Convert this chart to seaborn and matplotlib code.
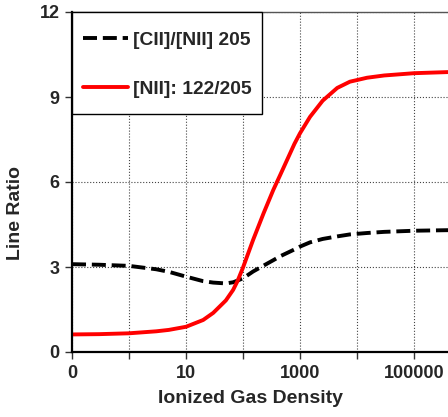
import numpy as np
import pandas as pd
import matplotlib
matplotlib.use("Agg")
import matplotlib.pyplot as plt
import seaborn as sns
from matplotlib.ticker import FixedLocator, FixedFormatter, NullLocator
from matplotlib.lines import Line2D
from matplotlib.legend_handler import HandlerLine2D

density = [0.1, 0.3, 1, 3, 5, 10, 20, 30, 50, 67, 80, 100, 150, 230, 340,
           450, 600, 800, 1000, 1500, 2500, 4500, 7500, 1.5e4, 3e4, 1e5, 4e5]
cii_nii = [3.1, 3.08, 3.04, 2.92, 2.83, 2.66, 2.5, 2.45, 2.42, 2.46, 2.52,
           2.6, 2.84, 3.05, 3.24, 3.38, 3.5, 3.62, 3.72, 3.87, 3.99, 4.08,
           4.15, 4.2, 4.24, 4.28, 4.3]
nii_ratio = [0.62, 0.63, 0.66, 0.73, 0.78, 0.89, 1.13, 1.38, 1.82, 2.19, 2.5,
             2.98, 3.95, 4.9, 5.72, 6.25, 6.8, 7.35, 7.72, 8.3, 8.87, 9.32,
             9.54, 9.68, 9.76, 9.84, 9.88]
series_names = ["[CII]/[NII] 205", "[NII]: 122/205"]
xtick_pos = [0.1, 10, 1000, 100000]
xtick_labels = ["0", "10", "1000", "100000"]
ytick_vals = [0, 3, 6, 9, 12]

sns.set_style("white")
plt.rcParams['font.family'] = ['Liberation Sans', 'DejaVu Sans']
plt.rcParams['font.weight'] = 'bold'

df = pd.DataFrame({
    "x": density * 2,
    "y": cii_nii + nii_ratio,
    "series": [series_names[0]] * len(density) + [series_names[1]] * len(density),
})

DASH = (3.6, 1.5)
LW = 2.8

fig = plt.figure(figsize=(4.48, 4.17), dpi=100)
ax = fig.add_axes([72 / 448, 65 / 417, 1 - 72 / 448, 340 / 417])

sns.lineplot(data=df, x="x", y="y", hue="series", style="series",
             palette={series_names[0]: "black", series_names[1]: "#ff0000"},
             dashes={series_names[0]: DASH, series_names[1]: ""},
             linewidth=LW, ax=ax, legend=False)

ax.set_xscale("log")
ax.set_xlim(0.1, 10 ** (-1 + (448 - 72) / 57))
ax.set_ylim(0, 12)

decades = [10.0 ** k for k in range(-1, 6)]
ax.xaxis.set_major_locator(FixedLocator(decades))
ax.xaxis.set_major_formatter(FixedFormatter(
    [xtick_labels[xtick_pos.index(d)] if d in xtick_pos else "" for d in decades]))
ax.xaxis.set_minor_locator(NullLocator())
ax.set_yticks(ytick_vals)
ax.set_yticklabels([str(v) for v in ytick_vals])

ax.tick_params(axis="both", direction="out", length=5, width=1, color="#333",
               labelsize=13, pad=4, bottom=True, left=True)
for lab in ax.get_xticklabels() + ax.get_yticklabels():
    lab.set_fontweight("bold")

ax.grid(True, which="major", linestyle=":", color="#444", linewidth=0.8)
ax.set_axisbelow(True)

for s in ["left", "bottom"]:
    ax.spines[s].set_color("black")
    ax.spines[s].set_linewidth(1.6)
ax.spines["top"].set_color("#555")
ax.spines["top"].set_linewidth(1.0)
ax.spines["right"].set_visible(False)

ax.set_xlabel("Ionized Gas Density", fontsize=14, fontweight="bold")
ax.set_ylabel("Line Ratio", fontsize=14, fontweight="bold")
ax.xaxis.set_label_coords((250 - 72) / 376, (352 - 390) / 340)
ax.yaxis.set_label_coords((24 - 72) / 376, (352 - 213) / 340)


class ShiftedLineHandler(HandlerLine2D):
    def create_artists(self, legend, orig_handle, xdescent, ydescent,
                       width, height, fontsize, trans):
        arts = super().create_artists(legend, orig_handle, xdescent, ydescent,
                                      width, height, fontsize, trans)
        for a in arts:
            a.set_ydata([y - 0.225 * fontsize for y in a.get_ydata()])
        return arts


handles = [Line2D([], [], color="black", lw=LW, dashes=DASH),
           Line2D([], [], color="#ff0000", lw=LW)]
leg = ax.legend(handles, series_names, loc="upper left",
                bbox_to_anchor=(0.0, 1.0), frameon=True, fancybox=False,
                edgecolor="black", framealpha=1,
                prop={"weight": "bold", "size": 13.9}, labelspacing=0.85,
                handlelength=2.33, handleheight=2.2, handletextpad=0.26,
                borderpad=0.55, borderaxespad=0.0,
                handler_map={Line2D: ShiftedLineHandler()})
leg.get_frame().set_linewidth(1.0)

fig.savefig("out.png", dpi=100)
